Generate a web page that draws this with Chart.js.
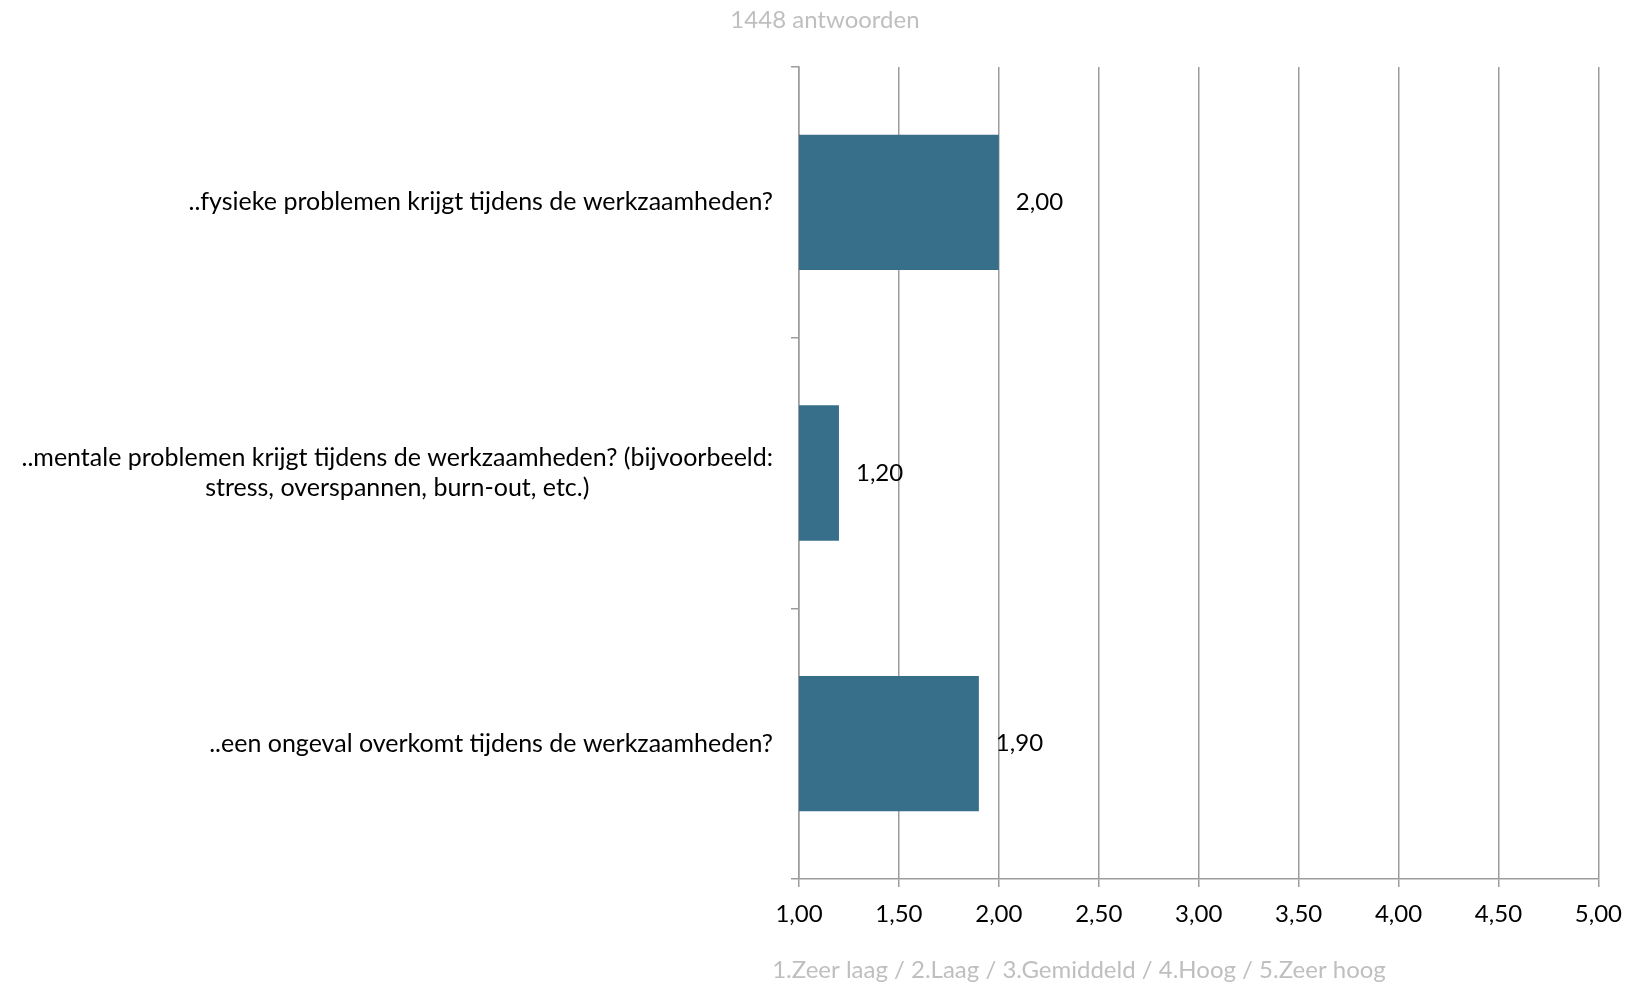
<!DOCTYPE html>
<html>
<head>
<meta charset="utf-8">
<script src="https://cdn.jsdelivr.net/npm/chart.js@4/dist/chart.umd.min.js"></script>
<style>
  html, body { margin: 0; padding: 0; background: #fff; }
  #wrap { width: 1635px; height: 984px; }
</style>
</head>
<body>
<div id="wrap"><canvas id="chart" width="1635" height="984"></canvas></div>
<script>
// ------ Data ------
const categories = [
  '..fysieke problemen krijgt tijdens de werkzaamheden?',
  ['..mentale problemen krijgt tijdens de werkzaamheden? (bijvoorbeeld:', 'stress, overspannen, burn-out, etc.)'],
  '..een ongeval overkomt tijdens de werkzaamheden?'
];
const scores = [2.00, 1.20, 1.90];
const xMin = 1, xMax = 5, xStep = 0.5;
const chartTitle = '1448 antwoorden';
const axisTitle = '1.Zeer laag / 2.Laag / 3.Gemiddeld / 4.Hoog / 5.Zeer hoog';

// ------ Style ------
const FONT = 'Lato, "Open Sans", sans-serif';
const FS = 24;
const GRID = '#9c9c9c';
const GREY_TXT = '#bfbfbf';
const fmt = v => Number(v).toFixed(2).replace('.', ',');

// y labels drawn by hand so multi-line labels are centred line by line
const yLabels = {
  id: 'yLabels',
  afterDraw(chart) {
    const { ctx } = chart;
    const sc = chart.scales.y;
    ctx.save();
    ctx.font = `25px ${FONT}`;
    ctx.fillStyle = '#000';
    ctx.textAlign = 'center';
    ctx.textBaseline = 'middle';
    categories.forEach((lab, i) => {
      const lines = Array.isArray(lab) ? lab : [lab];
      const w = Math.max(...lines.map(l => ctx.measureText(l).width));
      const cx = sc.right - 26 - w / 2;
      const cy = sc.getPixelForValue(i);
      lines.forEach((l, j) => ctx.fillText(l, cx, cy + (j - (lines.length - 1) / 2) * 30));
    });
    ctx.restore();
  }
};

// value labels right of the bars, chart title and axis title
const extras = {
  id: 'extras',
  afterDatasetsDraw(chart) {
    const { ctx, chartArea } = chart;
    ctx.save();
    ctx.font = `${FS}px ${FONT}`;
    ctx.fillStyle = '#000';
    ctx.textAlign = 'left';
    ctx.textBaseline = 'middle';
    chart.getDatasetMeta(0).data.forEach((bar, i) => {
      ctx.fillText(fmt(scores[i]), bar.x + 17, bar.y);
    });
    ctx.fillStyle = GREY_TXT;
    ctx.textAlign = 'center';
    ctx.fillText(axisTitle, chartArea.left + 280, chartArea.bottom + 91);
    ctx.fillText(chartTitle, chartArea.left + 26, 20);
    ctx.restore();
  }
};

new Chart(document.getElementById('chart'), {
  type: 'bar',
  data: {
    labels: categories,
    datasets: [{
      data: scores,
      backgroundColor: '#376f8b',
      borderWidth: 0,
      barPercentage: 1.0,
      categoryPercentage: 0.5
    }]
  },
  options: {
    indexAxis: 'y',
    responsive: false,
    animation: false,
    layout: { padding: { left: 0, right: 32, bottom: 0, top: 67 } },
    plugins: {
      legend: { display: false },
      tooltip: { enabled: false },
      title: { display: false }
    },
    scales: {
      x: {
        type: 'linear',
        min: xMin,
        max: xMax,
        ticks: {
          stepSize: xStep,
          color: '#000',
          font: { family: FONT, size: FS },
          padding: 13,
          callback: v => fmt(v)
        },
        grid: { color: GRID, lineWidth: 1.5, tickLength: 8, drawTicks: true },
        border: { color: GRID, width: 1.5 },
        afterFit: s => { s.height = 105; }
      },
      y: {
        ticks: { display: false },
        grid: { color: GRID, lineWidth: 1.5, drawOnChartArea: false, drawTicks: true, tickLength: 8, offset: true },
        border: { color: GRID, width: 1.5 },
        afterFit: s => { s.width = 799; }
      }
    }
  },
  plugins: [yLabels, extras]
});
</script>
</body>
</html>
